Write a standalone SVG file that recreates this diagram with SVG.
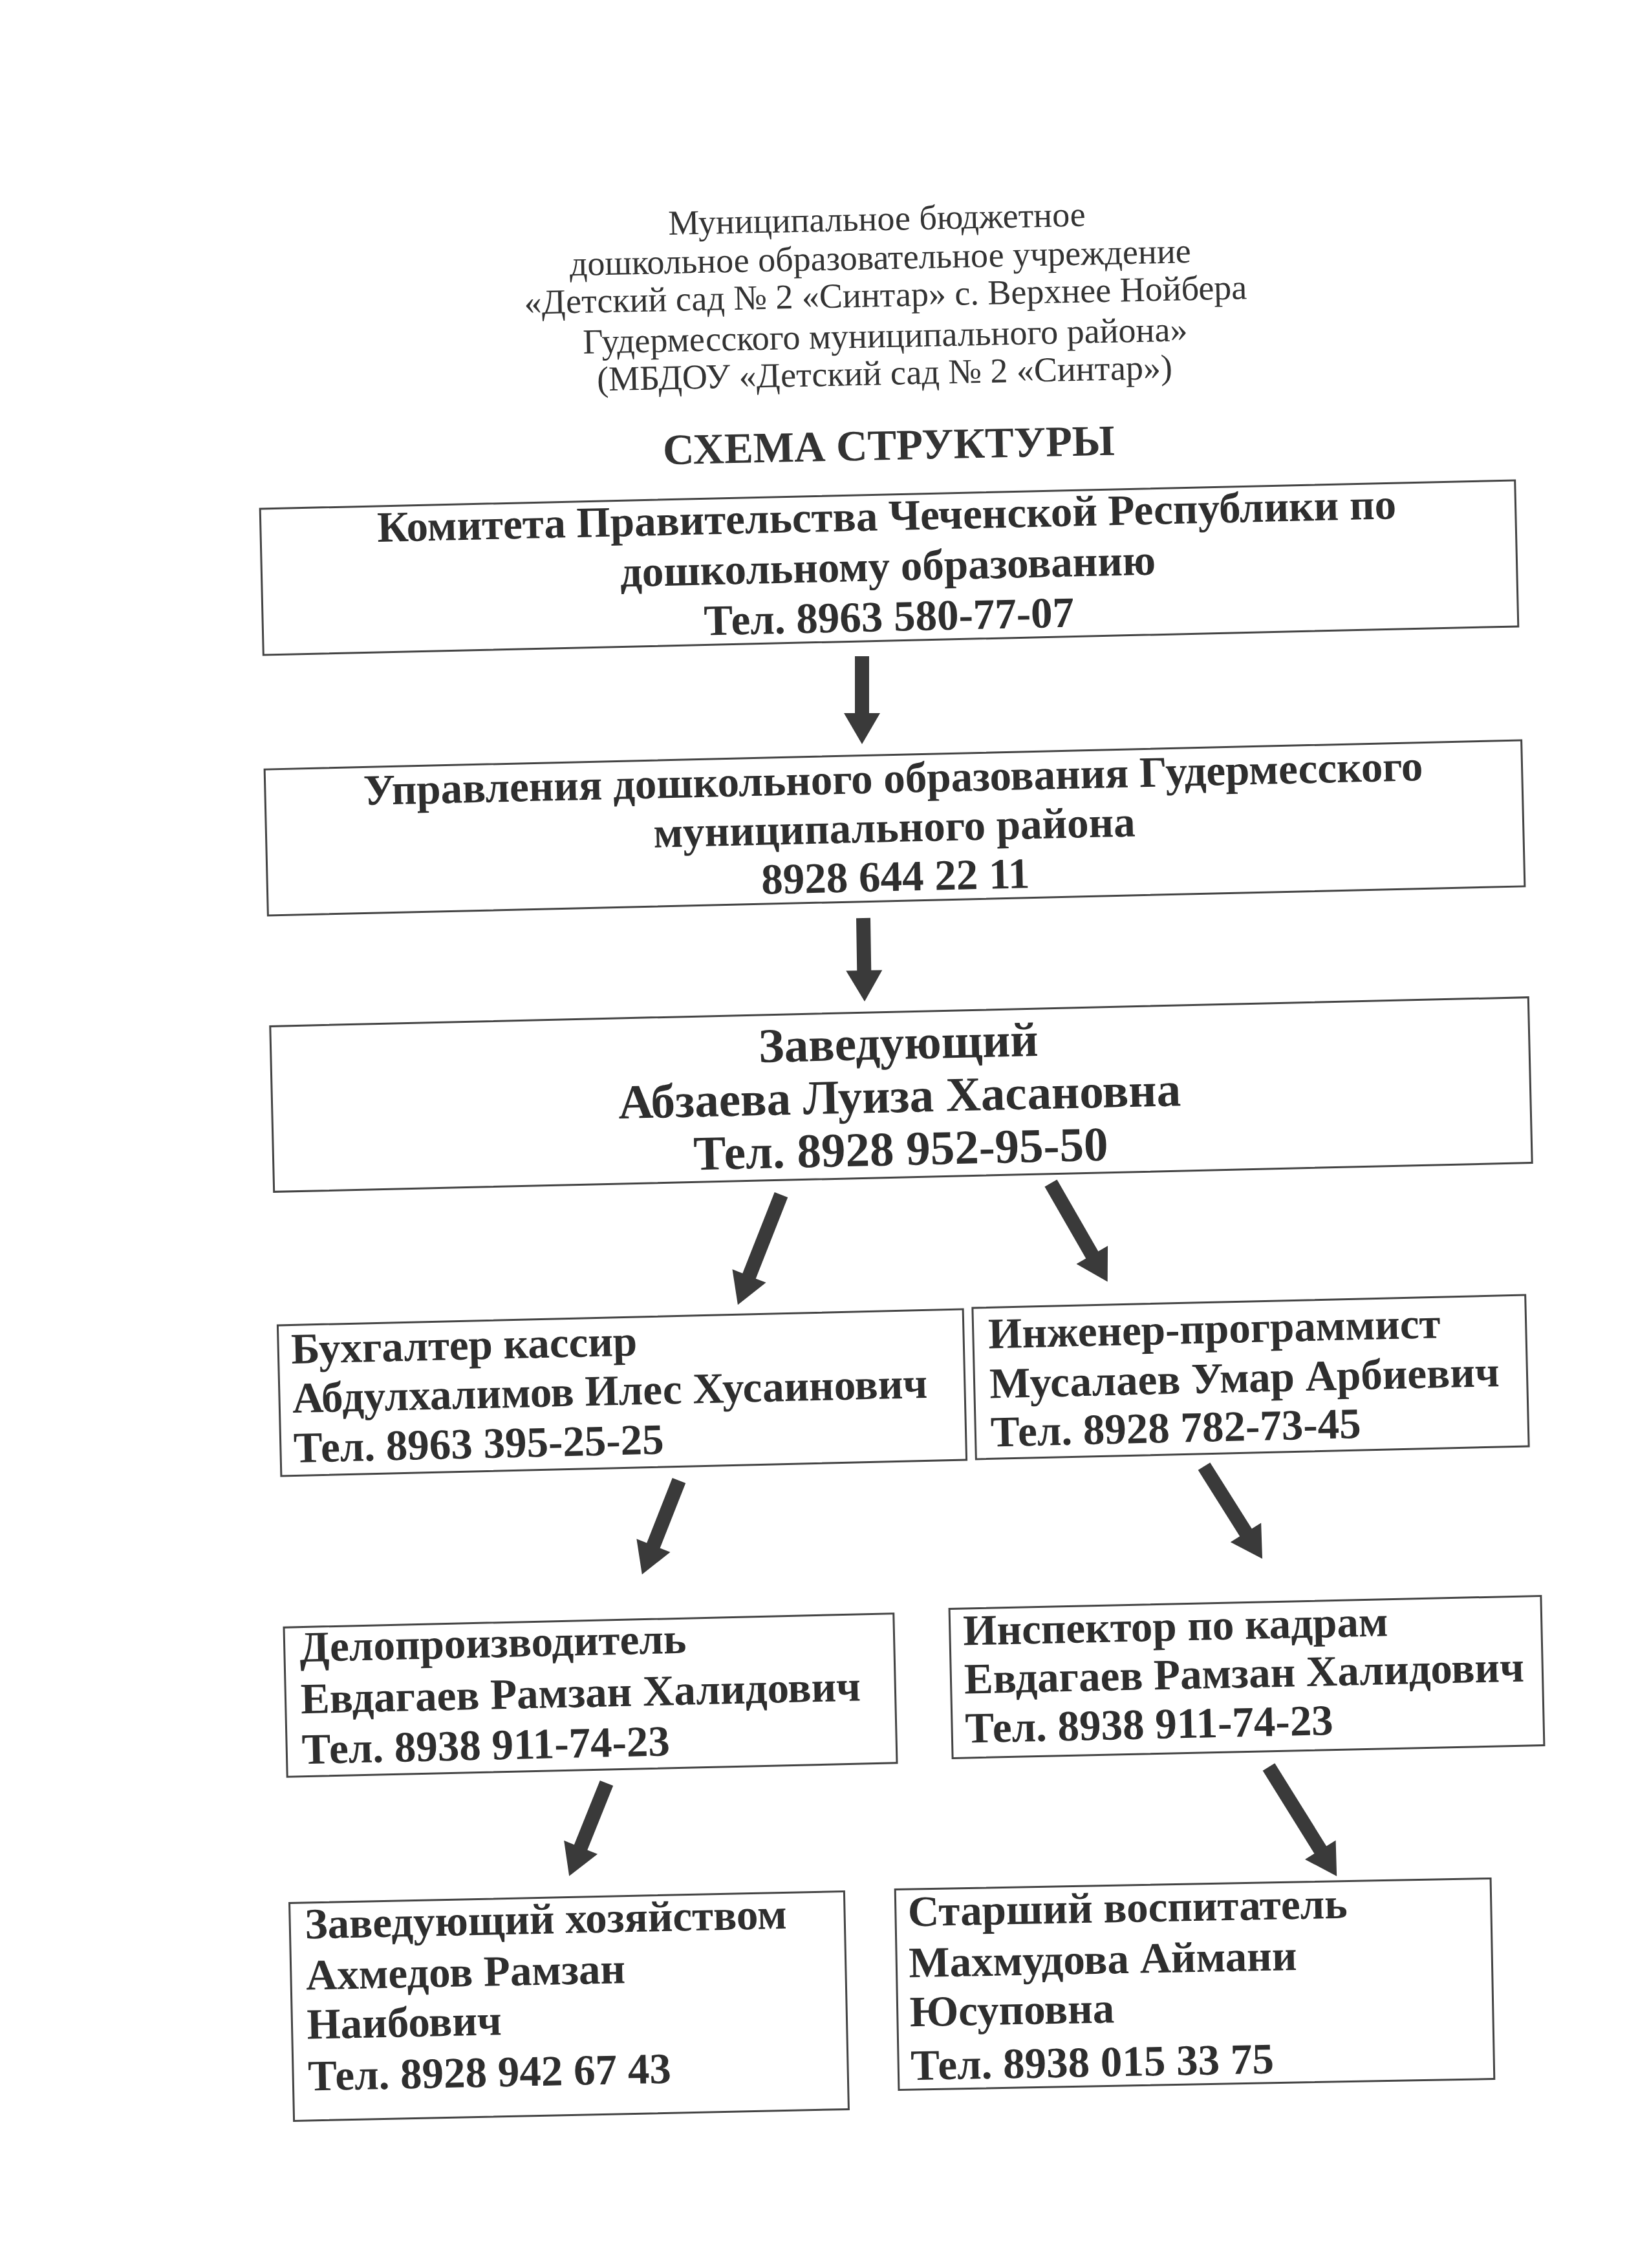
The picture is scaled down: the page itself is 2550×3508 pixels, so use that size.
<svg xmlns="http://www.w3.org/2000/svg" width="2550" height="3508" viewBox="0 0 2550 3508">
<style>
.bg{fill:#ffffff}
.hdr{font-family:"Liberation Serif","Times New Roman",serif;font-size:54px;fill:#333;text-anchor:middle}
.ttl{font-family:"Liberation Serif","Times New Roman",serif;font-size:67px;font-weight:bold;fill:#333;text-anchor:middle}
.box{fill:#ffffff;stroke:#444;stroke-width:3}
.tc{font-family:"Liberation Serif","Times New Roman",serif;font-size:67px;font-weight:bold;fill:#2e2e2e;text-anchor:middle}
.tb{font-family:"Liberation Serif","Times New Roman",serif;font-size:75px;font-weight:bold;fill:#2e2e2e;text-anchor:middle}
.tl{font-family:"Liberation Serif","Times New Roman",serif;font-size:67px;font-weight:bold;fill:#2e2e2e}
.arr{fill:#3a3a3a}
</style>
<rect class="bg" x="0" y="0" width="2550" height="3508"/>
<g id="header" transform="rotate(-1.2 1370 530)">
<text class="hdr" x="1360" y="356">Муниципальное бюджетное</text>
<text class="hdr" x="1364" y="416">дошкольное образовательное учреждение</text>
<text class="hdr" x="1371" y="474">«Детский сад № 2 «Синтар» с. Верхнее Нойбера</text>
<text class="hdr" x="1369" y="537">Гудермесского муниципального района»</text>
<text class="hdr" x="1367" y="595">(МБДОУ «Детский сад № 2 «Синтар»)</text>
<text class="ttl" x="1371" y="711">СХЕМА СТРУКТУРЫ</text>
</g>
<g id="node-committee" transform="rotate(-1.3 1375 878)">
<rect class="box" x="404.5" y="765" width="1941" height="226"/>
<text class="tc" x="1373" y="820">Комитета Правительства Чеченской Республики по</text>
<text class="tc" x="1373" y="898">дошкольному образованию</text>
<text class="tc" x="1373" y="976">Тел. 8963 580-77-07</text>
</g>
<g id="node-department" transform="rotate(-1.33 1383.5 1280.5)">
<rect class="box" x="411.5" y="1167.5" width="1944" height="226"/>
<text class="tc" x="1383" y="1226">Управления дошкольного образования Гудермесского</text>
<text class="tc" x="1383" y="1302">муниципального района</text>
<text class="tc" x="1383" y="1378">8928 644 22 11</text>
</g>
<g id="node-head" transform="rotate(-1.32 1393.5 1693)">
<rect class="box" x="420.5" y="1565" width="1946" height="256"/>
<text class="tb" x="1391" y="1638">Заведующий</text>
<text class="tb" x="1391" y="1720">Абзаева Луиза Хасановна</text>
<text class="tb" x="1391" y="1802">Тел. 8928 952-95-50</text>
</g>
<g id="node-accountant" transform="rotate(-1.35 962 2154)">
<rect class="box" x="432" y="2037.5" width="1060" height="233"/>
<text class="tl" x="452" y="2097">Бухгалтер кассир</text>
<text class="tl" x="452" y="2173">Абдулхалимов Илес Хусаинович</text>
<text class="tl" x="452" y="2250">Тел. 8963 395-25-25</text>
</g>
<g id="node-engineer" transform="rotate(-1.34 1934 2130)">
<rect class="box" x="1506.5" y="2013" width="855" height="234"/>
<text class="tl" x="1530" y="2076">Инженер-программист</text>
<text class="tl" x="1530" y="2153">Мусалаев Умар Арбиевич</text>
<text class="tl" x="1530" y="2228">Тел. 8928 782-73-45</text>
</g>
<g id="node-clerk" transform="rotate(-1.3 913 2622)">
<rect class="box" x="441.5" y="2506.5" width="943" height="231"/>
<text class="tl" x="465" y="2560">Делопроизводитель</text>
<text class="tl" x="465" y="2640">Евдагаев Рамзан Халидович</text>
<text class="tl" x="465" y="2718">Тел. 8938 911-74-23</text>
</g>
<g id="node-hr" transform="rotate(-1.25 1928 2594)">
<rect class="box" x="1470.5" y="2478.5" width="915" height="231"/>
<text class="tl" x="1491" y="2535">Инспектор по кадрам</text>
<text class="tl" x="1491" y="2610">Евдагаев Рамзан Халидович</text>
<text class="tl" x="1491" y="2686">Тел. 8938 911-74-23</text>
</g>
<g id="node-facilities" transform="rotate(-1.2 880 3103)">
<rect class="box" x="451" y="2934.5" width="858" height="337"/>
<text class="tl" x="474" y="2990">Заведующий хозяйством</text>
<text class="tl" x="474" y="3069">Ахмедов Рамзан</text>
<text class="tl" x="474" y="3145">Наибович</text>
<text class="tl" x="474" y="3225">Тел. 8928 942 67 43</text>
</g>
<g id="node-educator" transform="rotate(-1.06 1847.5 3069)">
<rect class="box" x="1387" y="2914" width="921" height="310"/>
<text class="tl" x="1406" y="2971">Старший воспитатель</text>
<text class="tl" x="1406" y="3050">Махмудова Аймани</text>
<text class="tl" x="1406" y="3126">Юсуповна</text>
<text class="tl" x="1406" y="3209">Тел. 8938 015 33 75</text>
</g>
<g id="connectors">
<polygon class="arr" transform="translate(1333 1015) rotate(90)" points="0,-11 88,-11 88,-28 136,0 88,28 88,11 0,11"/>
<polygon class="arr" transform="translate(1335 1420) rotate(89.1)" points="0,-11 81,-11 81,-28 129,0 81,28 81,11 0,11"/>
<polygon class="arr" transform="translate(1208 1848) rotate(111.5)" points="0,-11 135,-11 135,-28 183,0 135,28 135,11 0,11"/>
<polygon class="arr" transform="translate(1625 1830) rotate(60.1)" points="0,-11 128,-11 128,-28 176,0 128,28 128,11 0,11"/>
<polygon class="arr" transform="translate(1050 2290) rotate(111.5)" points="0,-11 108,-11 108,-28 156,0 108,28 108,11 0,11"/>
<polygon class="arr" transform="translate(1862 2268) rotate(57.8)" points="0,-11 121,-11 121,-28 169,0 121,28 121,11 0,11"/>
<polygon class="arr" transform="translate(938 2758) rotate(111.9)" points="0,-11 107,-11 107,-28 155,0 107,28 107,11 0,11"/>
<polygon class="arr" transform="translate(1962 2733) rotate(58.1)" points="0,-11 151,-11 151,-28 199,0 151,28 151,11 0,11"/>
</g>
</svg>
